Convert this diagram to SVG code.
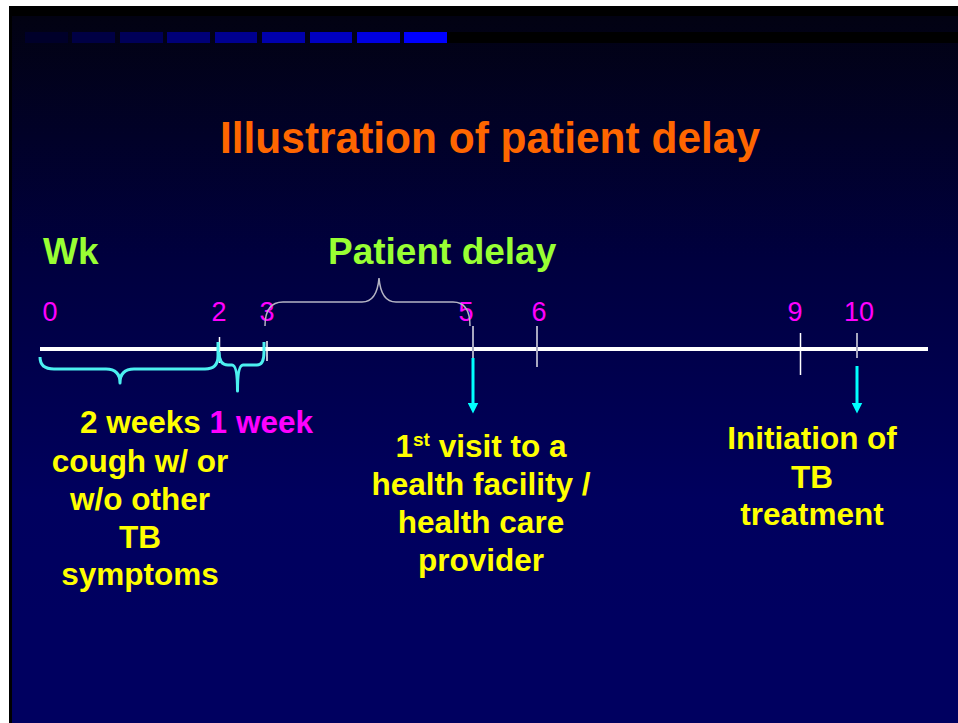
<svg xmlns="http://www.w3.org/2000/svg" width="958" height="723" viewBox="0 0 958 723">
  <defs>
    <linearGradient id="slideBg" gradientUnits="userSpaceOnUse" x1="0" y1="16" x2="0" y2="620">
      <stop offset="0" stop-color="#020212"/>
      <stop offset="0.4" stop-color="#00003e"/>
      <stop offset="0.8" stop-color="#00005e"/>
      <stop offset="1" stop-color="#000060"/>
    </linearGradient>
    <marker id="cyanHead" viewBox="0 0 11 11" refX="0.5" refY="5.5" markerWidth="11" markerHeight="11" markerUnits="userSpaceOnUse" orient="auto">
      <path d="M0,0 L11,5.5 L0,11 Z" fill="#00FFFF"/>
    </marker>
    <style>
      .heading { font-family: "Liberation Sans", Arial, sans-serif; font-weight: bold; }
      .title { font-size: 45px; fill: #FF6600; }
      .green { font-size: 37px; fill: #99FF33; }
      .wk { font-family: "Liberation Sans", Arial, sans-serif; font-size: 27px; fill: #FF00FF; text-anchor: middle; }
      .body { font-family: "Liberation Sans", Arial, sans-serif; font-weight: bold; font-size: 31.5px; fill: #FFFF00; text-anchor: middle; }
      .axis { stroke: #FFFFFF; stroke-width: 4; }
      .tick { stroke: #FFFFFF; stroke-width: 1.5; }
      .tick-grey { stroke: #A8A8C0; stroke-width: 2; }
      .brace-cyan { fill: none; stroke: #4CF0F0; stroke-width: 3; stroke-linejoin: round; }
      .brace-grey { fill: none; stroke: #B4B4C4; stroke-width: 1.5; }
      .arrow { stroke: #00FFFF; stroke-width: 3; }
    </style>
  </defs>

  <!-- page and slide background -->
  <rect x="0" y="0" width="958" height="723" fill="#FFFFFF"/>
  <rect x="9" y="6" width="949" height="717" fill="url(#slideBg)"/>
  <rect x="9" y="6" width="949" height="10" fill="#000000"/>
  <rect x="9" y="6" width="3" height="717" fill="#000000"/>

  <!-- header bar of graded blue blocks -->
  <g id="header-bar">
    <rect x="447" y="32" width="511" height="11" fill="#000000"/>
    <rect x="25" y="32" width="43" height="11" fill="#00002a"/>
    <rect x="72" y="32" width="43" height="11" fill="#000044"/>
    <rect x="120" y="32" width="43" height="11" fill="#000058"/>
    <rect x="167" y="32" width="43" height="11" fill="#000077"/>
    <rect x="215" y="32" width="42" height="11" fill="#000090"/>
    <rect x="262" y="32" width="43" height="11" fill="#0000ad"/>
    <rect x="310" y="32" width="42" height="11" fill="#0000c2"/>
    <rect x="357" y="32" width="43" height="11" fill="#0000e0"/>
    <rect x="404" y="32" width="43" height="11" fill="#0000ff"/>
  </g>

  <g id="title">
    <text class="heading title" x="220" y="153" textLength="540" lengthAdjust="spacingAndGlyphs">Illustration of patient delay</text>
  </g>

  <g id="label-wk">
    <text class="heading green" x="43" y="264">Wk</text>
  </g>
  <g id="label-patient-delay">
    <text class="heading green" x="328" y="264">Patient delay</text>
  </g>

  <!-- week numbers -->
  <g id="week-numbers">
    <text class="wk" x="50" y="321">0</text>
    <text class="wk" x="219" y="321">2</text>
    <text class="wk" x="267" y="321">3</text>
    <text class="wk" x="466" y="321">5</text>
    <text class="wk" x="539" y="321">6</text>
    <text class="wk" x="795" y="321">9</text>
    <text class="wk" x="859" y="321">10</text>
  </g>

  <!-- time axis with ticks -->
  <g id="timeline">
    <line class="axis" x1="40" y1="349" x2="928" y2="349"/>
    <line class="tick" x1="219.5" y1="337" x2="219.5" y2="363"/>
    <line class="tick" x1="267" y1="341" x2="267" y2="361"/>
    <line class="tick-grey" x1="473" y1="326" x2="473" y2="358"/>
    <line class="tick-grey" x1="537" y1="326" x2="537" y2="367"/>
    <line class="tick" x1="800.5" y1="333" x2="800.5" y2="375"/>
    <line class="tick-grey" x1="857" y1="333" x2="857" y2="358"/>
  </g>

  <g id="connectors">
    <!-- 2 weeks brace -->
    <path class="brace-cyan" d="M40,357 Q40,369 54,369 L106,369 Q120,369 120,383 Q120,369 134,369 L205,369 Q218,369 218,356 L218,342"/>
    <!-- 1 week brace -->
    <path class="brace-cyan" d="M219,352 Q219,365 228,365 L232,365 Q237.5,365 237.5,391 Q237.5,365 243,365 L257,365 Q264,365 264,352 L264,342"/>
    <!-- patient delay brace -->
    <path class="brace-grey" d="M265,326 Q265,302 283,302 L362,302 Q377,302 379,278 Q381,302 396,302 L453,302 Q470,302 470,326"/>
    <!-- event arrows -->
    <line class="arrow" x1="473" y1="358" x2="473" y2="403" marker-end="url(#cyanHead)"/>
    <line class="arrow" x1="857" y1="366" x2="857" y2="403" marker-end="url(#cyanHead)"/>
  </g>

  <g id="note-symptoms">
    <text class="heading" x="80" y="433" font-size="31.5" fill="#FFFF00">2 weeks <tspan fill="#FF00FF">1 week</tspan></text>
    <text class="body" x="140" y="472">cough w/ or</text>
    <text class="body" x="140" y="510">w/o other</text>
    <text class="body" x="140" y="548">TB</text>
    <text class="body" x="140" y="585">symptoms</text>
  </g>

  <g id="note-first-visit">
    <text class="body" x="481" y="457">1<tspan font-size="19" dy="-11">st</tspan><tspan dy="11"> visit to a</tspan></text>
    <text class="body" x="481" y="495">health facility /</text>
    <text class="body" x="481" y="533">health care</text>
    <text class="body" x="481" y="571">provider</text>
  </g>

  <g id="note-treatment">
    <text class="body" x="812" y="449">Initiation of</text>
    <text class="body" x="812" y="488">TB</text>
    <text class="body" x="812" y="525">treatment</text>
  </g>
</svg>
